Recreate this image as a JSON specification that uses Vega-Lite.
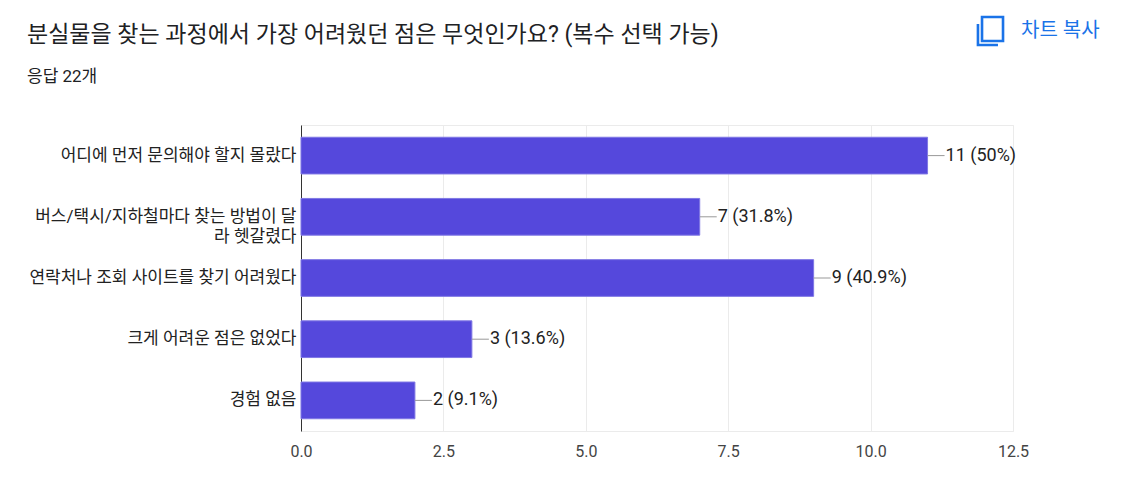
{
  "$schema": "https://vega.github.io/schema/vega-lite/v6.json",
  "width": 712,
  "height": 306,
  "autosize": "none",
  "padding": {"left": 301, "top": 125, "right": 119, "bottom": 55},
  "background": "white",
  "config": {
    "font": "Roboto, Noto Sans CJK KR",
    "view": {"stroke": "#ebebeb", "strokeWidth": 1}
  },
  "title": {
    "text": "분실물을 찾는 과정에서 가장 어려웠던 점은 무엇인가요? (복수 선택 가능)",
    "subtitle": "응답 22개",
    "anchor": "start",
    "frame": "group",
    "dx": -274,
    "offset": -73,
    "fontSize": 23,
    "fontWeight": "normal",
    "color": "#202124",
    "subtitleFontSize": 17,
    "subtitleColor": "#202124",
    "subtitlePadding": 22,
    "font": "Roboto, Noto Sans CJK KR",
    "subtitleFont": "Roboto, Noto Sans CJK KR"
  },
  "data": {
    "values": [
      {"answer": "어디에 먼저 문의해야 할지 몰랐다", "count": 11, "label": "11 (50%)"},
      {"answer": "버스/택시/지하철마다 찾는 방법이 달라 헷갈렸다", "count": 7, "label": "7 (31.8%)"},
      {"answer": "연락처나 조회 사이트를 찾기 어려웠다", "count": 9, "label": "9 (40.9%)"},
      {"answer": "크게 어려운 점은 없었다", "count": 3, "label": "3 (13.6%)"},
      {"answer": "경험 없음", "count": 2, "label": "2 (9.1%)"}
    ]
  },
  "encoding": {
    "y": {
      "field": "answer",
      "type": "nominal",
      "sort": null,
      "scale": {"paddingInner": 0.4, "paddingOuter": 0.2},
      "axis": {
        "title": null,
        "ticks": false,
        "domain": true,
        "domainColor": "#333333",
        "domainWidth": 1,
        "labelFontSize": 17,
        "labelColor": "#222222",
        "labelPadding": 5,
        "labelLimit": 295,
        "labelLineHeight": 20,
        "labelFont": "Roboto, Noto Sans CJK KR",
        "labelExpr": "datum.value == '버스/택시/지하철마다 찾는 방법이 달라 헷갈렸다' ? ['버스/택시/지하철마다 찾는 방법이 달', '라 헷갈렸다'] : datum.label"
      }
    }
  },
  "layer": [
    {
      "mark": {"type": "bar", "color": "#5548dc", "stroke": "#7f77e4", "strokeWidth": 1},
      "encoding": {
        "x": {
          "field": "count",
          "type": "quantitative",
          "scale": {"domain": [0, 12.5], "nice": false},
          "axis": {
            "title": null,
            "values": [0, 2.5, 5, 7.5, 10, 12.5],
            "format": ".1f",
            "grid": true,
            "gridColor": "#ebebeb",
            "domain": false,
            "ticks": false,
            "labelFlush": false,
            "labelFontSize": 16,
            "labelColor": "#444444",
            "labelPadding": 12,
            "labelFont": "Roboto, Noto Sans CJK KR"
          }
        }
      }
    },
    {
      "mark": {"type": "rule", "color": "#999999", "strokeWidth": 1, "x2Offset": 17},
      "encoding": {
        "x": {"field": "count", "type": "quantitative"},
        "x2": {"field": "count"}
      }
    },
    {
      "mark": {"type": "text", "align": "left", "baseline": "middle", "dx": 18, "fontSize": 18, "color": "#222222", "font": "Roboto, Noto Sans CJK KR"},
      "encoding": {
        "x": {"field": "count", "type": "quantitative"},
        "text": {"field": "label"}
      }
    },
    {
      "data": {"values": [{"button": "차트 복사"}]},
      "mark": {"type": "text", "align": "left", "baseline": "middle", "fontSize": 20, "color": "#1a73e8", "font": "Roboto, Noto Sans CJK KR"},
      "encoding": {
        "x": {"value": 720},
        "y": {"value": -94},
        "text": {"field": "button"}
      }
    },
    {
      "data": {"values": [{"icon": "copy"}]},
      "mark": {
        "type": "point",
        "shape": "M-0.57,-1 H0.93 V0.71 H-0.57 Z M-0.86,-0.5 V1 H0.57",
        "size": 784,
        "filled": false,
        "stroke": "#1a73e8",
        "strokeWidth": 2.6,
        "opacity": 1
      },
      "encoding": {
        "x": {"value": 689},
        "y": {"value": -94}
      }
    }
  ]
}
